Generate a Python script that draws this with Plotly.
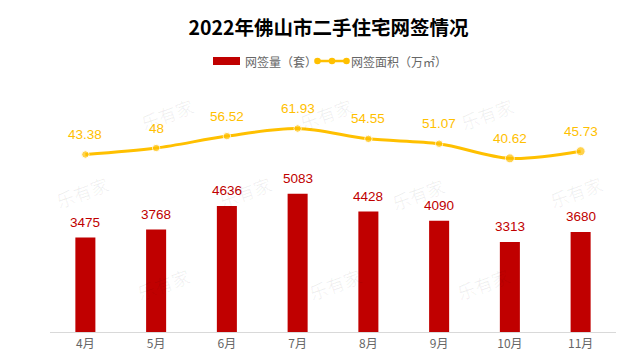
import plotly.graph_objects as go

months = ["4月", "5月", "6月", "7月", "8月", "9月", "10月", "11月"]
units = [3475, 3768, 4636, 5083, 4428, 4090, 3313, 3680]
area = [43.38, 48, 56.52, 61.93, 54.55, 51.07, 40.62, 45.73]
area_text = ["43.38", "48", "56.52", "61.93", "54.55", "51.07", "40.62", "45.73"]
legend_names = ["网签量（套）", "网签面积（万㎡）"]

NUM_FONT = "Arial, 'Liberation Sans', sans-serif"
CJK_FONT = "'Noto Sans CJK SC', sans-serif"
RED = "#c00000"
YEL = "#ffc000"

W, H = 641, 356
L, R, T, B = 42, 33, 60, 31.5
PW, PH = W - L - R, H - T - B


def px(xp):
    return (xp - L) / PW


def py(yp):
    return (H - B - yp) / PH


fig = go.Figure()
fig.add_trace(go.Bar(
    x=months, y=units, name=legend_names[0],
    marker=dict(color=RED, line=dict(width=0)), width=0.283,
    showlegend=False,
))
fig.add_trace(go.Scatter(
    x=months, y=area, name=legend_names[1], yaxis="y2",
    mode="lines+markers", line=dict(color=YEL, width=3, shape="spline", smoothing=0.9),
    marker=dict(color=YEL, size=[7.5, 7.5, 7.5, 7.5, 7.5, 7.5, 9, 9]),
    showlegend=False, cliponaxis=False,
))

annotations = []
for m, v in zip(months, units):
    annotations.append(dict(x=m, y=v, xref="x", yref="y", text=str(v), showarrow=False,
                            yanchor="middle", yshift=15,
                            font=dict(size=13.5, color=RED, family=NUM_FONT)))
for m, v, t in zip(months, area, area_text):
    annotations.append(dict(x=m, y=v, xref="x", yref="y2", text=t, showarrow=False,
                            yanchor="middle", yshift=20,
                            font=dict(size=13.5, color=YEL, family=NUM_FONT)))

# faint watermarks
for (wx, wy) in [(127, 82), (318, 82), (511, 82), (42, 184), (237, 184), (410, 186), (600, 184),
                 (123, 300), (327, 300), (507, 300)]:
    annotations.append(dict(text="乐有家", x=px(wx), y=py(wy), xref="paper", yref="paper", showarrow=False,
                            textangle=-20, font=dict(size=18, color="rgba(0,0,0,0.06)", family=CJK_FONT)))

# manual legend
shapes = [
    dict(type="rect", xref="paper", yref="paper", x0=px(205), x1=px(232), y0=py(57), y1=py(49),
         fillcolor=RED, line=dict(width=0)),
    dict(type="line", xref="paper", yref="paper", x0=px(309), x1=px(339), y0=py(53), y1=py(53),
         line=dict(color=YEL, width=2.5)),
]
for cx in (309.5, 324, 338.5):
    shapes.append(dict(type="circle", xref="paper", yref="paper", x0=px(cx - 3.3), x1=px(cx + 3.3),
                       y0=py(53 + 3.3), y1=py(53 - 3.3), fillcolor=YEL, line=dict(width=0)))
annotations.append(dict(text=legend_names[0], x=px(235), y=py(53), xref="paper", yref="paper",
                        xanchor="left", yanchor="middle", showarrow=False,
                        font=dict(size=12, color="#666666", family=CJK_FONT)))
annotations.append(dict(text=legend_names[1], x=px(341), y=py(53), xref="paper", yref="paper",
                        xanchor="left", yanchor="middle", showarrow=False,
                        font=dict(size=12, color="#666666", family=CJK_FONT)))

fig.update_layout(
    width=W, height=H,
    margin=dict(l=L, r=R, t=T, b=B, autoexpand=False),
    paper_bgcolor="white", plot_bgcolor="white",
    title=dict(text="<b>2022年佛山市二手住宅网签情况</b>", x=0.5, xanchor="center",
               y=1 - 20 / H, yanchor="middle",
               font=dict(size=19.5, color="#000000", family=CJK_FONT)),
    showlegend=False,
    annotations=annotations,
    shapes=shapes,
    xaxis=dict(showline=True, linecolor="#d9d9d9", linewidth=1.2, ticks="", automargin=False,
               tickfont=dict(size=12, color="#666666", family=CJK_FONT)),
    yaxis=dict(range=[0, 9706], visible=False, showgrid=False, automargin=False),
    yaxis2=dict(range=[-83.5, 105.2], overlaying="y", visible=False, showgrid=False, automargin=False),
)
fig.write_html("out.html")
